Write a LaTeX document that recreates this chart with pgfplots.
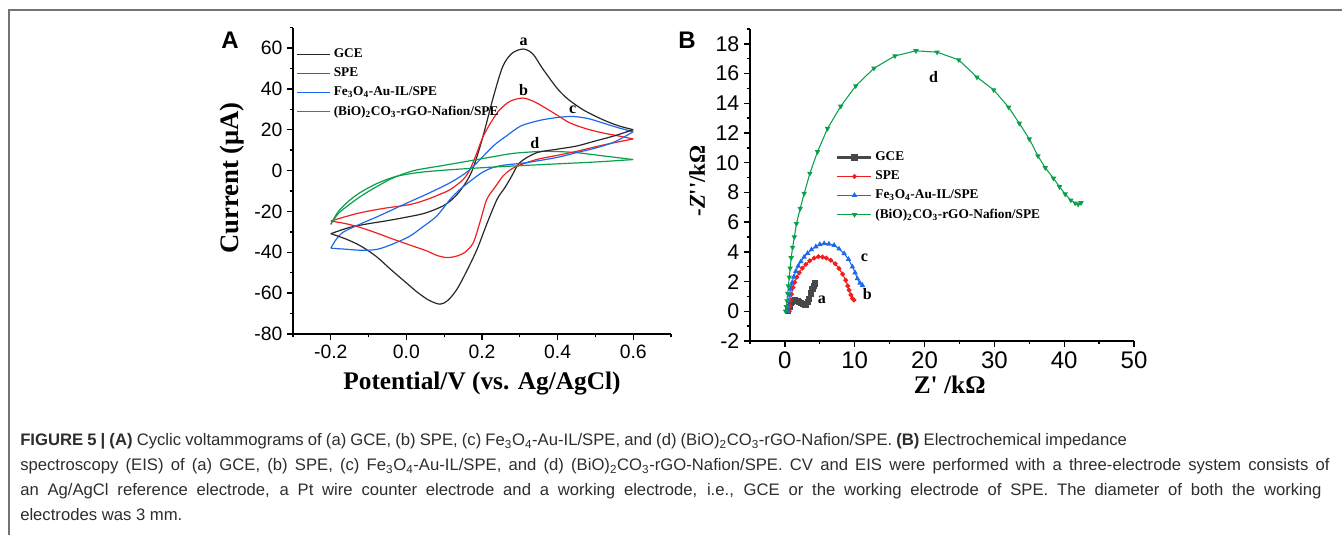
\documentclass[border=0pt]{standalone}
\usepackage{pgfplots}
\pgfplotsset{compat=1.18}
\usepackage{fontspec}
\setmainfont{Liberation Sans}
\newfontfamily\serifb{Liberation Serif}
\newfontfamily\capfont{Liberation Sans}
\definecolor{cvblack}{RGB}{40,40,40}
\definecolor{cvred}{RGB}{240,30,30}
\definecolor{cvblue}{RGB}{30,105,235}
\definecolor{cvgreen}{RGB}{10,160,75}
\definecolor{framegray}{RGB}{115,115,115}
\definecolor{capgray}{RGB}{45,45,45}

\pgfplotsset{
 panel/.style={
  scale only axis,anchor=south west,
  axis lines=left,axis line style={-,line width=1.1pt},
  tick align=outside,tick style={black,line width=1pt},
  major tick length=4.5pt,minor tick length=2.5pt,
  /pgf/number format/assume math mode=true,
  label style={font=\serifb\bfseries\fontsize{19}{19}\selectfont},
  legend cell align=left,
  legend style={draw=none,fill=none,inner sep=0pt,row sep=2.1pt,
   font=\serifb\bfseries\fontsize{10}{11}\selectfont},
 },
}

\begin{document}
\begin{tikzpicture}
\path[use as bounding box] (0,0) rectangle (1006.5pt,401.25pt);

\begin{scope}[x=0.75pt,y=0.75pt]
\draw[framegray,line width=1.1pt] (9,0)--(9,525)--(1342,525);
\node[font=\bfseries\fontsize{18}{18}\selectfont] at (230,495) {A};
\node[font=\bfseries\fontsize{18}{18}\selectfont] at (687,495) {B};
\begin{scope}[every node/.style={anchor=base west,inner sep=0pt,text=capgray,font=\capfont\fontsize{12.5}{12.5}\selectfont}]
\node at (20,89) {\makebox[830pt][s]{\textbf{FIGURE 5 | (A)} Cyclic voltammograms of (a) GCE, (b) SPE, (c) Fe\textsubscript{3}O\textsubscript{4}-Au-IL/SPE, and (d) (BiO)\textsubscript{2}CO\textsubscript{3}-rGO-Nafion/SPE. \textbf{(B)} Electrochemical impedance}};
\node at (20,64) {\makebox[982pt][s]{spectroscopy (EIS) of (a) GCE, (b) SPE, (c) Fe\textsubscript{3}O\textsubscript{4}-Au-IL/SPE, and (d) (BiO)\textsubscript{2}CO\textsubscript{3}-rGO-Nafion/SPE. CV and EIS were performed with a three-electrode system consists of}};
\node at (20,39) {\makebox[976pt][s]{an Ag/AgCl reference electrode, a Pt wire counter electrode and a working electrode, i.e., GCE or the working electrode of SPE. The diameter of both the working}};
\node at (20,14) {electrodes was 3 mm.};
\end{scope}
\end{scope}

% Panel A: cyclic voltammograms
\begin{axis}[panel,
 at={(219.75pt,150.75pt)},width=283.5pt,height=229.8pt,
 xmin=-0.3,xmax=0.7,ymin=-80,ymax=70,
 xtick={-0.2,0,0.2,0.4,0.6},minor xtick={-0.3,-0.1,0.1,0.3,0.5,0.7},
 ytick={-80,-60,...,60},minor ytick={-70,-50,...,70},
 xticklabel style={/pgf/number format/.cd,fixed,fixed zerofill,precision=1},
 tick label style={font=\fontsize{14.5}{14.5}\selectfont},
 xlabel={Potential/V (vs. Ag/AgCl)},ylabel={Current (μA)},
 xlabel style={at={(axis description cs:0.5,-0.16)},anchor=center},
 ylabel style={at={(axis description cs:-0.161,0.509)},anchor=center,font=\serifb\bfseries\fontsize{20}{20}\selectfont},
 legend style={at={(axis description cs:0.008,0.94)},anchor=north west},
 legend image code/.code={\draw[#1,line width=1.1pt] (0pt,0pt)--(25pt,0pt);},
]
\addplot[cvblack,line width=0.9pt,smooth] coordinates {
 (-0.2,-30.9) (-0.15,-27.8) (-0.1,-26.0) (-0.05,-24.5) (0.0,-22.8) (0.05,-20.8)
 (0.1,-17.0) (0.13,-12.5) (0.155,-6.5) (0.175,0.5) (0.2,15) (0.23,36) (0.255,51)
 (0.28,57.5) (0.31,59.5) (0.335,57) (0.36,50) (0.4,40) (0.43,34.6) (0.47,29.5)
 (0.52,24.9) (0.56,22) (0.6,20)};
\addlegendentry{GCE}
\addplot[cvred,line width=0.9pt,smooth] coordinates {
 (-0.2,-24.7) (-0.16,-22.5) (-0.121,-20.6) (-0.06,-18.5) (0.01,-16.6) (0.055,-14.1)
 (0.09,-11.5) (0.116,-9.3) (0.15,-4.4) (0.168,0.5) (0.185,8) (0.203,16.7) (0.225,24)
 (0.247,29.8) (0.275,34) (0.308,35.5) (0.335,34) (0.361,31.4) (0.4,27) (0.432,23.4)
 (0.475,20.5) (0.518,18.5) (0.56,17) (0.6,15.5)};
\addlegendentry{SPE}
\addplot[cvblue,line width=0.9pt,smooth] coordinates {
 (-0.2,-38) (-0.185,-33.5) (-0.166,-30) (-0.12,-26) (-0.076,-22.5) (0.0,-16)
 (0.06,-11) (0.12,-5.5) (0.168,0.5) (0.229,11.9) (0.265,17) (0.3,21.6)
 (0.33,23.5) (0.361,24.9) (0.4,26) (0.44,26.5) (0.48,25.5) (0.518,23.4) (0.56,21) (0.6,19)};
\addlegendentry{Fe\textsubscript{3}O\textsubscript{4}-Au-IL/SPE}
\addplot[cvgreen,line width=0.9pt,smooth] coordinates {
 (-0.2,-26.3) (-0.18,-21) (-0.15,-16.5) (-0.12,-12.5) (-0.08,-8) (-0.034,-3.5)
 (0.02,0) (0.097,2.5) (0.187,5.4) (0.274,8.2) (0.32,9.0) (0.361,9.4) (0.4,9.3)
 (0.45,8.8) (0.52,7.2) (0.6,5.4)};
\addlegendentry{(BiO)\textsubscript{2}CO\textsubscript{3}-rGO-Nafion/SPE}
% reverse scans
\addplot[cvblack,line width=0.9pt,smooth,forget plot] coordinates {
 (0.6,20) (0.55,17) (0.5,14.5) (0.45,12) (0.4,10.5) (0.344,8.7) (0.3,3.9)
 (0.278,-2.9) (0.26,-8.5) (0.24,-14) (0.213,-26) (0.187,-38.5) (0.16,-49)
 (0.134,-58) (0.11,-63.5) (0.089,-65.4) (0.06,-63.5) (0.03,-59.7) (0.0,-55)
 (-0.042,-48.3) (-0.08,-42) (-0.121,-36.9) (-0.16,-33.5) (-0.2,-30.9)};
\addplot[cvred,line width=0.9pt,smooth,forget plot] coordinates {
 (0.6,15.5) (0.52,12.5) (0.45,9.4) (0.4,7.5) (0.344,5.4) (0.292,2.1) (0.272,0)
 (0.255,-2.8) (0.235,-8) (0.213,-14) (0.195,-25) (0.177,-35.3) (0.155,-40)
 (0.134,-41.8) (0.108,-42.6) (0.08,-41.5) (0.055,-39.4) (0.01,-36.5) (-0.033,-33.7)
 (-0.08,-30.5) (-0.121,-27.9) (-0.16,-26) (-0.2,-24.7)};
\addplot[cvblue,line width=0.9pt,smooth,forget plot] coordinates {
 (0.6,19) (0.55,14) (0.5,11) (0.45,8.8) (0.4,6.5) (0.318,3.9) (0.26,2.7) (0.229,1.5)
 (0.2,-1) (0.17,-5) (0.14,-9.5) (0.116,-14) (0.08,-22.3) (0.04,-28) (0.01,-32)
 (-0.03,-35.5) (-0.076,-38.5) (-0.12,-39) (-0.16,-38.5) (-0.2,-38)};
\addplot[cvgreen,line width=0.9pt,smooth,forget plot] coordinates {
 (0.6,5.4) (0.5,4.2) (0.4,3.3) (0.3,2.4) (0.2,1.4) (0.1,0.2) (0.03,-1) (-0.03,-3)
 (-0.08,-6.5) (-0.12,-10.5) (-0.15,-14.5) (-0.18,-20) (-0.2,-26.3)};
\begin{scope}[every node/.style={font=\serifb\bfseries\fontsize{12}{12}\selectfont}]
\node at (axis cs:0.31,63) {a};
\node at (axis cs:0.31,39.5) {b};
\node at (axis cs:0.44,29.8) {c};
\node at (axis cs:0.34,13.6) {d};
\end{scope}
\end{axis}

% Panel B: Nyquist plots
\begin{axis}[panel,
 at={(562.5pt,145.5pt)},width=288pt,height=234pt,
 xmin=-5,xmax=50,ymin=-2,ymax=19,
 xtick={0,10,...,50},minor xtick={-5,5,15,25,35,45},
 ytick={-2,0,...,18},minor ytick={-1,1,...,19},
 yticklabel style={font=\fontsize{16}{16}\selectfont},
 xticklabel style={font=\fontsize{18}{18}\selectfont},
 xlabel={Z\textquotesingle\ /kΩ},ylabel={-\textit{Z}''/kΩ},
 xlabel style={at={(axis description cs:0.52,-0.14)},anchor=center},
 ylabel style={at={(axis description cs:-0.138,0.513)},anchor=center,font=\serifb\bfseries\fontsize{17}{17}\selectfont},
 legend style={at={(axis description cs:0.224,0.615)},anchor=north west},
 legend image code/.code={\draw[mark repeat=2,mark phase=2,#1] plot coordinates {(0pt,0pt) (12.75pt,0pt) (25.5pt,0pt)};},
]
\addplot[cvblack!85,line width=1.8pt,mark=square*,mark size=1.4pt] coordinates {
 (0.5,0.0) (0.7,0.3) (0.86,0.55) (1.0,0.65) (1.2,0.72) (1.4,0.75) (1.6,0.72)
 (1.8,0.68) (2.0,0.62) (2.29,0.58) (2.6,0.5) (2.85,0.42) (3.05,0.45) (3.25,0.6)
 (3.48,0.85) (3.7,1.2) (3.95,1.5) (4.15,1.7) (4.33,1.87)};
\addlegendentry{GCE}
\addplot[cvred,line width=0.8pt,mark=*,mark size=1.4pt] coordinates {
 (0.62,0) (0.7,0.35) (0.8,0.75) (0.95,1.15) (1.15,1.6) (1.4,1.95) (1.7,2.3)
 (2.05,2.6) (2.5,2.9) (3.0,3.15) (3.55,3.4) (4.19,3.58) (4.8,3.68) (5.38,3.66)
 (5.95,3.58) (6.57,3.44) (7.2,3.2) (7.76,2.88) (8.25,2.5) (8.71,2.09) (9.0,1.7)
 (9.19,1.42) (9.45,1.1) (9.67,0.86) (9.9,0.76)};
\addlegendentry{SPE}
\addplot[cvblue,line width=0.8pt,mark=triangle*,mark size=1.6pt] coordinates {
 (0.38,0) (0.45,0.3) (0.55,0.7) (0.65,1.1) (0.8,1.5) (1.0,1.9) (1.25,2.3)
 (1.57,2.7) (1.9,3.05) (2.29,3.35) (2.75,3.65) (3.24,3.9) (3.8,4.15) (4.43,4.35)
 (5.0,4.5) (5.62,4.56) (6.3,4.53) (7.05,4.45) (7.75,4.2) (8.48,3.89) (9.1,3.5)
 (9.67,2.99) (10.05,2.6) (10.38,2.2) (10.75,1.9) (11.1,1.75)};
\addlegendentry{Fe\textsubscript{3}O\textsubscript{4}-Au-IL/SPE}
\addplot[cvgreen,line width=0.8pt,mark=triangle*,mark size=1.6pt,mark options={rotate=180}] coordinates {
 (0.1,0) (0.2,0.3) (0.3,0.7) (0.4,1.2) (0.5,1.7) (0.62,2.3) (0.75,2.9) (0.9,3.6)
 (1.1,4.3) (1.35,5.0) (1.65,5.9) (2.19,6.92) (2.76,7.93) (3.57,9.28) (4.67,10.74)
 (6.1,12.3) (8.0,13.8) (10.14,15.17) (12.76,16.36) (15.76,17.19) (18.76,17.53)
 (21.8,17.44) (24.9,16.92) (27.5,15.76) (29.9,14.9) (32.05,13.73) (33.57,12.65)
 (35,11.6) (36.24,10.45) (37.29,9.66) (38.47,8.95) (39.33,8.38) (40.14,7.89)
 (40.95,7.48) (41.57,7.28) (42.0,7.2) (42.4,7.3)};
\addlegendentry{(BiO)\textsubscript{2}CO\textsubscript{3}-rGO-Nafion/SPE}
\begin{scope}[every node/.style={font=\serifb\bfseries\fontsize{12}{12}\selectfont}]
\node at (axis cs:21.3,15.8) {d};
\node at (axis cs:11.4,3.57) {c};
\node at (axis cs:11.8,1.19) {b};
\node at (axis cs:5.29,0.79) {a};
\end{scope}
\end{axis}
\end{tikzpicture}
\end{document}
